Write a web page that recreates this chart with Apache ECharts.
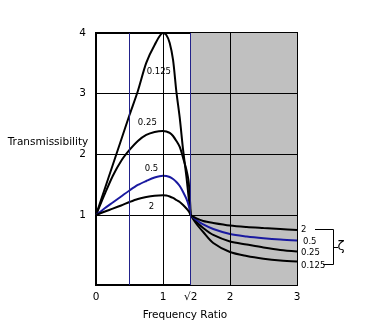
<!DOCTYPE html>
<html>
<head>
<meta charset="utf-8">
<script src="https://cdn.jsdelivr.net/npm/echarts@6/dist/echarts.min.js"></script>
<style>
html,body{margin:0;padding:0;background:#fff;}
#chart{width:390px;height:331px;}
</style>
</head>
<body>
<div id="chart"></div>
<script>
// Frequency ratio samples (x)
const freqRatio = [0, 0.125, 0.25, 0.375, 0.5, 0.625, 0.75, 0.875, 1, 1.05, 1.1, 1.15, 1.2, 1.25, 1.3, 1.35, 1.385, 1.4142, 1.5, 1.6, 1.75, 2, 2.25, 2.5, 2.75, 3];
// Transmissibility for each damping ratio
const zeta0125 = [1, 1.415, 1.827, 2.238, 2.650, 3.045, 3.507, 3.804, 4.0, 3.968, 3.836, 3.556, 3.029, 2.601, 2.074, 1.629, 1.267, 1.0, 0.855, 0.723, 0.542, 0.394, 0.328, 0.284, 0.254, 0.237];
const zeta025 = [1, 1.333, 1.646, 1.893, 2.074, 2.222, 2.321, 2.370, 2.387, 2.378, 2.354, 2.304, 2.222, 2.123, 1.942, 1.744, 1.530, 1.0, 0.888, 0.789, 0.674, 0.567, 0.517, 0.468, 0.427, 0.402];
const zeta05 = [1, 1.110, 1.209, 1.308, 1.407, 1.497, 1.563, 1.621, 1.651, 1.646, 1.629, 1.596, 1.547, 1.481, 1.382, 1.267, 1.152, 1.0, 0.921, 0.847, 0.773, 0.690, 0.649, 0.620, 0.598, 0.583];
const zeta2 = [1, 1.056, 1.107, 1.160, 1.217, 1.267, 1.300, 1.321, 1.328, 1.324, 1.308, 1.283, 1.250, 1.217, 1.168, 1.110, 1.061, 1.0, 0.946, 0.904, 0.872, 0.830, 0.806, 0.789, 0.773, 0.756];
const curveNames = ['0.125', '0.25', '0.5', '2'];
// Axis ticks
const xTickValues = [0, 1, 1.4142, 2, 3];
const yTickValues = [1, 2, 3, 4];
const hGridValues = [1, 2, 3];
const vGridBlack = [1, 2];
const vGridBlue = [0.5, 1.4142];
const isolationRange = [1.4142, 3];
// In-plot label anchors (data coordinates)
const innerLabelAt = [[0.9375, 3.358], [0.766, 2.518], [0.828, 1.761], [0.828, 1.135]];

const FONT = 'DejaVu Sans';
const curveData = [zeta0125, zeta025, zeta05, zeta2];
const curveColors = ['#000', '#000', '#1a1aa0', '#000'];
const endOffsets = [[0, 4.5], [0, 1], [2, 1], [0, 0]];
const splitIdx = freqRatio.indexOf(1.4142);

const chart = echarts.init(document.getElementById('chart'), null, {renderer: 'canvas'});

const series = [];
series.push({
  type: 'line', data: [], z: -1, silent: true,
  markArea: {
    silent: true,
    itemStyle: {color: '#c0c0c0'},
    data: [[{xAxis: isolationRange[0]}, {xAxis: isolationRange[1]}]]
  }
});
series.push({
  type: 'line', data: [], z: 0, silent: true,
  markLine: {
    silent: true, symbol: ['none', 'none'], label: {show: false}, animation: false,
    data: [
      ...hGridValues.map(v => ({yAxis: v, lineStyle: {color: '#000', width: 1, type: 'solid'}})),
      ...vGridBlack.map(v => ({xAxis: v, lineStyle: {color: '#000', width: 1, type: 'solid'}})),
      ...vGridBlue.map(v => ({xAxis: v, lineStyle: {color: '#22228a', width: 1, type: 'solid'}}))
    ]
  }
});
curveNames.forEach((name, k) => {
  const pts = freqRatio.map((x, i) => [x, curveData[k][i]]);
  // resonance branch (0 .. sqrt 2)
  series.push({
    type: 'line', name: name, z: 3,
    data: pts.slice(0, splitIdx + 1),
    smooth: 0.3, symbol: 'none', clip: false,
    lineStyle: {color: curveColors[k], width: 2},
    markPoint: {
      silent: true, symbol: 'rect', symbolSize: 1,
      itemStyle: {color: 'rgba(0,0,0,0)'},
      label: {show: true, position: 'inside', formatter: name, color: '#000', fontSize: 8.5, fontFamily: FONT},
      data: [{coord: innerLabelAt[k]}]
    }
  });
  // isolation branch (sqrt 2 .. 3)
  series.push({
    type: 'line', name: name, z: 3,
    data: pts.slice(splitIdx),
    smooth: 0.3, symbol: 'none', clip: false,
    lineStyle: {color: curveColors[k], width: 2},
    endLabel: {
      show: true, formatter: name, color: '#000', fontSize: 8.5, fontFamily: FONT,
      distance: 4, offset: endOffsets[k]
    }
  });
});

chart.setOption({
  animation: false,
  backgroundColor: '#fff',
  grid: {left: 96, top: 33, right: 93, bottom: 46, show: true, borderColor: '#000', borderWidth: 2, backgroundColor: 'transparent'},
  xAxis: {
    type: 'value', min: 0, max: 3,
    axisLine: {show: false}, axisTick: {show: false}, splitLine: {show: false},
    axisLabel: {
      customValues: xTickValues, margin: 7, color: '#000', fontSize: 10.5, fontFamily: FONT,
      formatter: v => (Math.abs(v - 1.4142) < 1e-3 ? '√2' : String(v))
    }
  },
  yAxis: {
    type: 'value', min: -0.15, max: 4,
    axisLine: {show: false}, axisTick: {show: false}, splitLine: {show: false},
    axisLabel: {customValues: yTickValues, margin: 10, color: '#000', fontSize: 10.5, fontFamily: FONT}
  },
  graphic: [
    {type: 'text', x: 48, y: 142, style: {text: 'Transmissibility', fill: '#000', font: '10.5px "DejaVu Sans"', textAlign: 'center', textVerticalAlign: 'middle'}},
    {type: 'text', x: 185, y: 315, style: {text: 'Frequency Ratio', fill: '#000', font: '10.5px "DejaVu Sans"', textAlign: 'center', textVerticalAlign: 'middle'}},
    {type: 'polyline', shape: {points: [[315, 229.5], [333.5, 229.5], [333.5, 264.5], [323, 264.5]]}, style: {stroke: '#000', lineWidth: 1, fill: null}},
    {type: 'line', shape: {x1: 333.5, y1: 247.5, x2: 338, y2: 247.5}, style: {stroke: '#000', lineWidth: 1}},
    {type: 'text', x: 341, y: 247, style: {text: 'ζ', fill: '#000', font: '13px "DejaVu Sans"', textAlign: 'center', textVerticalAlign: 'middle'}}
  ],
  series: series
});
</script>
</body>
</html>
